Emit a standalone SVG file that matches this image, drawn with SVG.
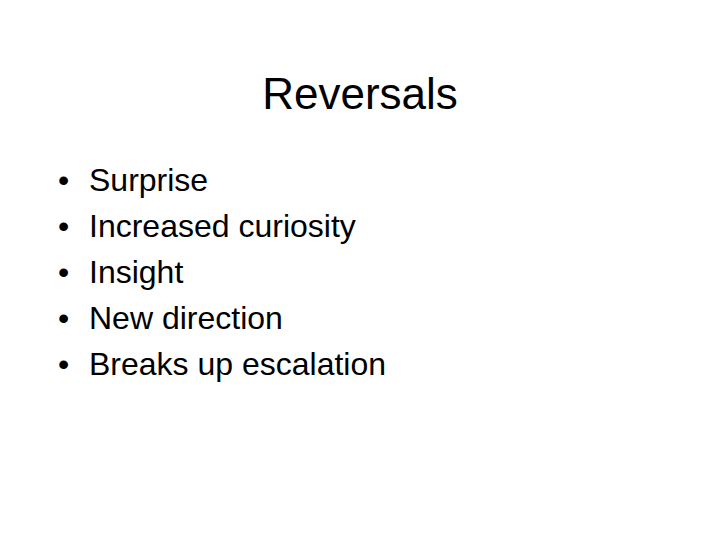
<svg xmlns="http://www.w3.org/2000/svg" width="720" height="540" viewBox="0 0 720 540"><style>text{font-family:"Liberation Sans",Arial,sans-serif;fill:#000}.b{font-size:32px}</style><rect width="720" height="540" fill="#fff"/><text x="360" y="109" font-size="44" text-anchor="middle">Reversals</text><g class="b"><text x="58" y="191">•</text><text x="89" y="191">Surprise</text><text x="58" y="237">•</text><text x="89" y="237">Increased curiosity</text><text x="58" y="283">•</text><text x="89" y="283">Insight</text><text x="58" y="329">•</text><text x="89" y="329">New direction</text><text x="58" y="375">•</text><text x="89" y="375">Breaks up escalation</text></g></svg>
